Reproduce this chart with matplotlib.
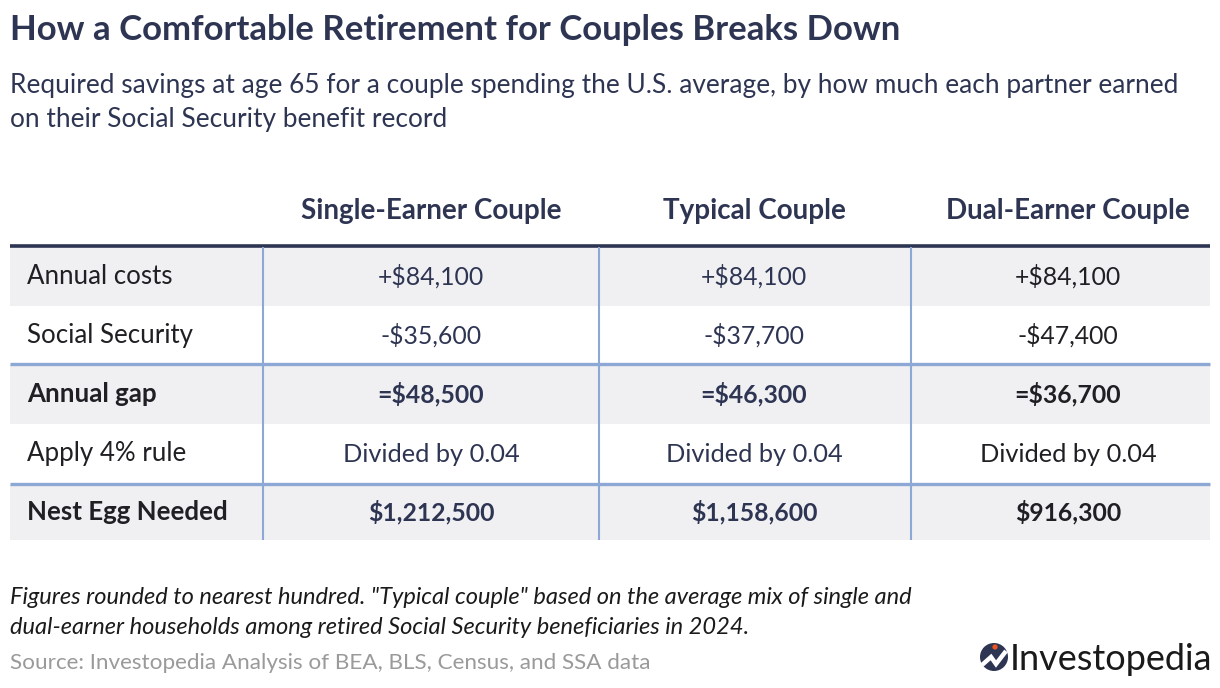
import matplotlib.pyplot as plt
from matplotlib.patches import Rectangle, Circle

plt.rcParams['font.family'] = ['Lato', 'DejaVu Sans']

# data
columns = ["Single-Earner Couple", "Typical Couple", "Dual-Earner Couple"]
row_labels = ["Annual costs", "Social Security", "Annual gap", "Apply 4% rule", "Nest Egg Needed"]
annual_costs = [84100, 84100, 84100]
social_security = [35600, 37700, 47400]
annual_gap = [48500, 46300, 36700]
rule_divisor = 0.04
nest_egg = [1212500, 1158600, 916300]

navy = "#2e3553"
blue = "#8ea8d6"
grey_bg = "#f0f0f3"

fig = plt.figure(figsize=(12.2, 6.88), dpi=100)
ax = fig.add_axes([0, 0, 1, 1])
ax.set_xlim(0, 1220)
ax.set_ylim(688, 0)
ax.axis("off")

# titles
ax.text(10, 30, "How a Comfortable Retirement for Couples Breaks Down",
        fontsize=25, fontweight="bold", color=navy, va="center")
ax.text(10, 86, "Required savings at age 65 for a couple spending the U.S. average, by how much each partner earned",
        fontsize=18.9, color=navy, va="center")
ax.text(10, 119, "on their Social Security benefit record",
        fontsize=18.9, color=navy, va="center")

# layout
col_x = [431, 754, 1068]
col_edges = [263, 599, 911]
row_top = [247, 306, 364, 424, 484]
row_bot = [306, 364, 424, 484, 540]
left, right = 10, 1210

for i, name in enumerate(columns):
    ax.text(col_x[i], 211, name, fontsize=20, fontweight="bold", color=navy,
            ha="center", va="center")

# row backgrounds
for r in range(len(row_labels)):
    if r % 2 == 0:
        ax.add_patch(Rectangle((left, row_top[r]), right - left, row_bot[r] - row_top[r],
                               facecolor=grey_bg, edgecolor="none", zorder=0))

# cell strings from the values
cells = [
    ["+${:,}".format(v) for v in annual_costs],
    ["-${:,}".format(v) for v in social_security],
    ["=${:,}".format(v) for v in annual_gap],
    ["Divided by {}".format(rule_divisor) for _ in columns],
    ["${:,}".format(v) for v in nest_egg],
]
bold_rows = [2, 4]

for r, label in enumerate(row_labels):
    yc = (row_top[r] + row_bot[r]) / 2
    w = "bold" if r in bold_rows else "normal"
    ax.text(27, yc, label, fontsize=18.6, fontweight=w, color="#1f1f24", va="center")
    for c in range(len(columns)):
        col = "#1f1f24" if c == 2 else navy
        fs = 18.3 if r == 3 else 17.8
        ax.text(col_x[c], yc, cells[r][c], fontsize=fs, fontweight=w, color=col,
                ha="center", va="center")

# rules
ax.plot([left, right], [245.5, 245.5], color=navy, lw=2.6, solid_capstyle="butt")
for yl in [364, 484]:
    ax.plot([left, right], [yl, yl], color=blue, lw=2.4, solid_capstyle="butt")
for xe in col_edges:
    ax.plot([xe, xe], [247, 540], color=blue, lw=1.5, solid_capstyle="butt")

# notes
ax.text(10, 597, "Figures rounded to nearest hundred. \"Typical couple\" based on the average mix of single and",
        fontsize=17, style="italic", color="#1a1a1a", va="center")
ax.text(10, 628, "dual-earner households among retired Social Security beneficiaries in 2024.",
        fontsize=17, style="italic", color="#1a1a1a", va="center")
ax.text(10, 663, "Source: Investopedia Analysis of BEA, BLS, Census, and SSA data",
        fontsize=16.2, color="#9a9a9a", va="center")

# logo
ax.add_patch(Circle((994, 657), 14, facecolor=navy, edgecolor="none"))
ax.plot([982, 991, 996, 1006], [665, 657, 664, 651], color="white", lw=3.2,
        solid_joinstyle="miter", solid_capstyle="butt")
ax.add_patch(Circle((995, 647), 2.6, facecolor="#f0541e", edgecolor="none"))
ax.text(1010, 659, "Investopedia", fontsize=26, color="#1a1a1a", va="center")

fig.savefig("out.png", dpi=100)
